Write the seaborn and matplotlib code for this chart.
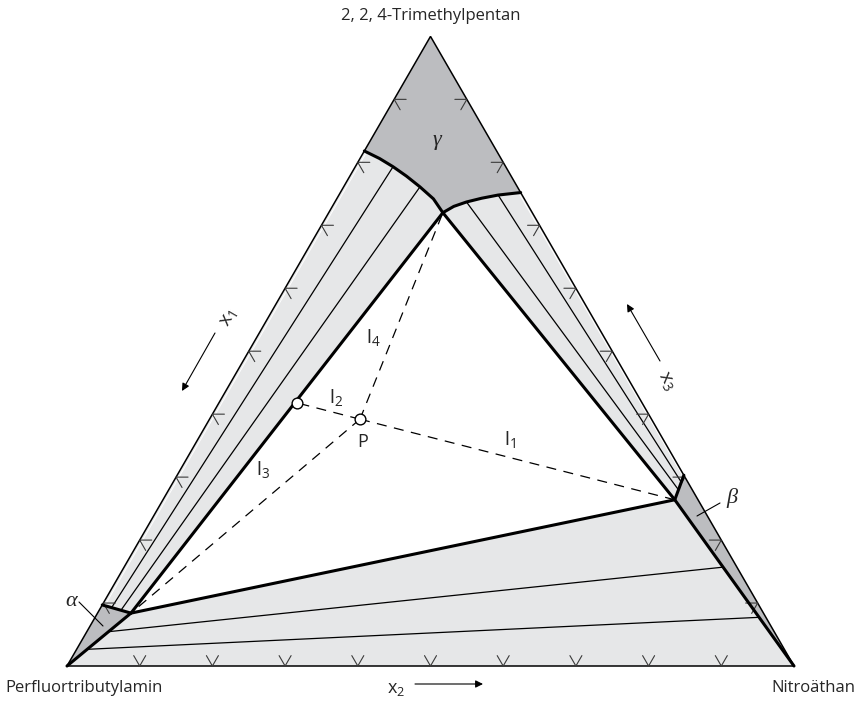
# Ternäres Phasendiagramm Perfluortributylamin / Nitroäthan / 2,2,4-Trimethylpentan

import numpy as np
import matplotlib.pyplot as plt
import seaborn as sns

# Molenbrüche: x2 = Nitroäthan, x3 = 2,2,4-Trimethylpentan (x1 = Rest)
ecke_x2 = [0.0, 1.0, 0.0]
ecke_x3 = [0.0, 0.0, 1.0]

# Eckpunkte des Dreiphasendreiecks
alpha_x2, alpha_x3 = 0.046, 0.084
beta_x2, beta_x3 = 0.704, 0.264
gamma_x2, gamma_x3 = 0.157, 0.720

# Grenzpunkte auf den Dreiecksseiten
alpha_rand_x2, alpha_rand_x3 = 0.0, 0.097
beta_rand_x2, beta_rand_x3 = 0.697, 0.303

# Grenzkurven der gamma-Phase
bogen_links_x2 = [0.000, 0.027, 0.052, 0.078, 0.105, 0.133, 0.157]
bogen_links_x3 = [0.818, 0.806, 0.793, 0.778, 0.761, 0.742, 0.720]
bogen_rechts_x2 = [0.157, 0.167, 0.181, 0.199, 0.219, 0.248]
bogen_rechts_x3 = [0.720, 0.730, 0.737, 0.743, 0.748, 0.752]

# Konoden: (x2 Anfang, x3 Anfang, x2 Ende, x3 Ende)
konoden = [
    (0.015, 0.093, 0.052, 0.793),
    (0.030, 0.089, 0.105, 0.761),
    (0.181, 0.737, 0.701, 0.280),
    (0.219, 0.748, 0.699, 0.292),
    (0.030, 0.0545, 0.824, 0.157),
    (0.0145, 0.0265, 0.913, 0.0773),
]

# Punkt P und Schnittpunkt mit der alpha-gamma-Grenze
p_x2, p_x3 = 0.207, 0.392
q_x2, q_x3 = 0.107, 0.418

skala = [0.1, 0.2, 0.3, 0.4, 0.5, 0.6, 0.7, 0.8, 0.9]

HELL = '#e6e7e8'
DUNKEL = '#bcbdc0'
W, H = 859, 701


def xy(x2, x3):
    x2 = np.asarray(x2, float)
    x3 = np.asarray(x3, float)
    return x2 + x3 / 2, x3 * np.sqrt(3) / 2


def fig_pos(px, py):
    return px / W, 1 - py / H


sns.set_style('white')
plt.rcParams['font.family'] = ['Open Sans', 'DejaVu Sans']

fig = plt.figure(figsize=(W / 100, H / 100), dpi=100)
ax = fig.add_axes([0, 0, 1, 1])
ax.set_xlim((0 - 67) / 727, (W - 67) / 727)
ax.set_ylim((666 - H) / 727, 666 / 727)
ax.axis('off')

# Flächen
def fuelle(x2s, x3s, farbe):
    X, Y = xy(x2s, x3s)
    ax.fill(X, Y, color=farbe, lw=0, zorder=1)

fuelle([0] + bogen_links_x2 + bogen_rechts_x2[1:],
       [1] + bogen_links_x3 + bogen_rechts_x3[1:], DUNKEL)
fuelle(bogen_links_x2 + [alpha_x2, alpha_rand_x2],
       bogen_links_x3 + [alpha_x3, alpha_rand_x3], HELL)
fuelle(bogen_rechts_x2 + [beta_rand_x2, beta_x2],
       bogen_rechts_x3 + [beta_rand_x3, beta_x3], HELL)
fuelle([0, alpha_rand_x2, alpha_x2], [0, alpha_rand_x3, alpha_x3], DUNKEL)
fuelle([1, beta_rand_x2, beta_x2], [0, beta_rand_x3, beta_x3], DUNKEL)
fuelle([0, alpha_x2, beta_x2, 1], [0, alpha_x3, beta_x3, 0], HELL)

# feine weiße Linien innerhalb der Zweiphasengebiete
for a, b in [((0.004, 0.096), (0.004, 0.814)), ((0.698, 0.300), (0.249, 0.748))]:
    X, Y = xy([a[0], b[0]], [a[1], b[1]])
    ax.plot(X, Y, color='white', lw=0.7, zorder=2)

# Konoden
for k in konoden:
    X, Y = xy([k[0], k[2]], [k[1], k[3]])
    sns.lineplot(x=X, y=Y, sort=False, color='black', lw=0.9, ax=ax, zorder=3)

# Dreiecksrahmen
X, Y = xy(ecke_x2 + [0], ecke_x3 + [0])
ax.plot(X, Y, color='black', lw=1.1, zorder=4, solid_joinstyle='miter')

# Skalenstriche
L = 0.0165
s3 = np.sqrt(3) / 2
for t in skala:
    # unten (x2)
    bx, by = xy(t, 0)
    ax.plot([bx - L / 2, bx, bx + L / 2], [by + L * s3, by, by + L * s3], color='#3a3a3a', lw=0.8, zorder=4)
    # links (x1)
    lx, ly = xy(0, 1 - t)
    ax.plot([lx + L, lx, lx + L / 2], [ly, ly, ly - L * s3], color='#3a3a3a', lw=0.8, zorder=4)
    # rechts (x3)
    rx, ry = xy(1 - t, t)
    ax.plot([rx - L, rx, rx - L / 2], [ry, ry, ry - L * s3], color='#3a3a3a', lw=0.8, zorder=4)

# Phasengrenzen
dick = dict(color='black', lw=2.2, zorder=5, solid_capstyle='round')
for x2s, x3s in [
    (bogen_links_x2, bogen_links_x3),
    (bogen_rechts_x2, bogen_rechts_x3),
    ([alpha_x2, gamma_x2, beta_x2], [alpha_x3, gamma_x3, beta_x3]),
    ([alpha_x2, beta_x2], [alpha_x3, beta_x3]),
    ([alpha_rand_x2, alpha_x2, 0], [alpha_rand_x3, alpha_x3, 0]),
    ([beta_rand_x2, beta_x2, 1], [beta_rand_x3, beta_x3, 0]),
]:
    X, Y = xy(x2s, x3s)
    ax.plot(X, Y, **dick)

# gestrichelte Hebelarme von P
for zx2, zx3 in [(gamma_x2, gamma_x3), (alpha_x2, alpha_x3), (beta_x2, beta_x3), (q_x2, q_x3)]:
    X, Y = xy([p_x2, zx2], [p_x3, zx3])
    ax.plot(X, Y, color='black', lw=0.9, ls=(0, (8, 6)), zorder=3)

X, Y = xy([p_x2, q_x2], [p_x3, q_x3])
sns.scatterplot(x=X, y=Y, s=60, color='white', edgecolor='black', linewidth=1.0, ax=ax, zorder=6)

# Beschriftungen
def text(px, py, s, **kw):
    x, y = fig_pos(px, py)
    fig.text(x, y, s, **kw)

text(431, 16, '2, 2, 4-Trimethylpentan', ha='center', va='center', fontsize=12)
text(5, 688, 'Perfluortributylamin', ha='left', va='center', fontsize=12)
text(855, 688, 'Nitroäthan', ha='right', va='center', fontsize=12)
text(396, 689, r'$\mathregular{x_2}$', ha='center', va='center', fontsize=13)
text(229, 318, r'$\mathregular{x_1}$', ha='center', va='center', fontsize=14, rotation=60)
text(667, 381, r'$\mathregular{x_3}$', ha='center', va='center', fontsize=14, rotation=-60)

griech = dict(ha='center', va='center', fontsize=16, family=['Liberation Serif', 'DejaVu Serif'], style='italic')
text(437, 140, 'γ', **griech)
text(71, 601, 'α', **griech)
text(732, 498, 'β', **griech)

text(510, 440, r'$\mathregular{l_1}$', ha='center', va='center', fontsize=14)
text(336, 398, r'$\mathregular{l_2}$', ha='center', va='center', fontsize=14)
text(263, 469, r'$\mathregular{l_3}$', ha='center', va='center', fontsize=14)
text(373, 338, r'$\mathregular{l_4}$', ha='center', va='center', fontsize=14)
text(363, 442, 'P', ha='center', va='center', fontsize=13)

# Hinweislinien und Pfeile
for (x0, y0), (x1, y1) in [((79, 602), (103, 626)), ((720, 503), (697, 516))]:
    fig.add_artist(plt.Line2D([x0 / W, x1 / W], [1 - y0 / H, 1 - y1 / H], color='black', lw=0.8))

pfeil = dict(arrowstyle='-|>', lw=0.8, color='black', mutation_scale=11, shrinkA=0, shrinkB=0)
for start, ende in [((415, 684), (483, 684)), ((215, 333), (182, 391)), ((660, 361), (627, 304))]:
    ax.annotate('', xy=fig_pos(*ende), xytext=fig_pos(*start),
                xycoords='figure fraction', textcoords='figure fraction', arrowprops=pfeil)

plt.savefig('out.png', dpi=100)
plt.close()
